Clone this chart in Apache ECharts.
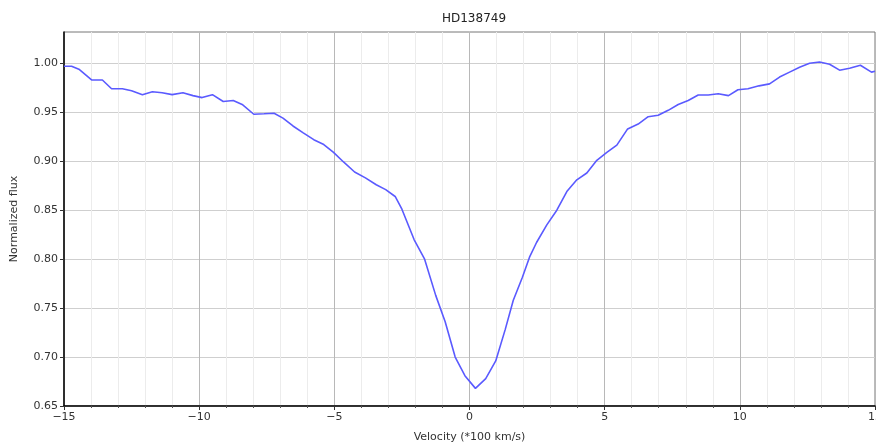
<!DOCTYPE html>
<html>
<head>
<meta charset="utf-8">
<title>HD138749</title>
<script src="https://cdn.jsdelivr.net/npm/echarts@6/dist/echarts.min.js"></script>
<style>
  html, body { margin: 0; padding: 0; background: #fff; }
  #chart { width: 876px; height: 443px; }
</style>
</head>
<body>
<div id="chart"></div>
<script>
// Line profile of HD138749: velocity (in units of 100 km/s) and normalized flux
const velocity = [
  -15.00, -14.72, -14.45, -13.98, -13.58, -13.24, -12.84, -12.50, -12.10, -11.73,
  -11.37, -11.00, -10.60, -10.23, -9.89, -9.51, -9.11, -8.74, -8.41, -7.98,
  -7.60, -7.23, -6.90, -6.53, -6.15, -5.76, -5.39, -5.03, -4.65, -4.25,
  -3.85, -3.45, -3.10, -2.75, -2.50, -2.05, -1.66, -1.25, -0.90, -0.53,
  -0.17, 0.22, 0.60, 0.97, 1.32, 1.62, 1.95, 2.22, 2.48, 2.86,
  3.23, 3.60, 3.97, 4.34, 4.71, 5.08, 5.45, 5.85, 6.24, 6.61,
  6.98, 7.35, 7.72, 8.09, 8.46, 8.83, 9.20, 9.58, 9.93, 10.30,
  10.71, 11.10, 11.47, 11.84, 12.21, 12.58, 12.95, 13.32, 13.69, 14.06,
  14.46, 14.87, 15.00
];
const flux = [
  0.997, 0.997, 0.994, 0.983, 0.983, 0.974, 0.974, 0.972, 0.968, 0.971,
  0.970, 0.968, 0.970, 0.967, 0.965, 0.968, 0.961, 0.962, 0.958, 0.948,
  0.9485, 0.949, 0.944, 0.936, 0.929, 0.922, 0.917, 0.909, 0.899, 0.889,
  0.883, 0.876, 0.871, 0.864, 0.851, 0.820, 0.800, 0.763, 0.736, 0.700,
  0.681, 0.668, 0.678, 0.696, 0.728, 0.758, 0.781, 0.802, 0.817, 0.835,
  0.850, 0.869, 0.881, 0.888, 0.901, 0.909, 0.9165, 0.933, 0.938, 0.9455,
  0.947, 0.952, 0.958, 0.962, 0.9676, 0.9676, 0.969, 0.967, 0.973, 0.974,
  0.977, 0.979, 0.986, 0.991, 0.996, 1.000, 1.0013, 0.999, 0.993, 0.995,
  0.998, 0.991, 0.992
];
const fluxTicks = [0.65, 0.70, 0.75, 0.80, 0.85, 0.90, 0.95, 1.00];

const chart = echarts.init(document.getElementById('chart'), null, { renderer: 'canvas' });
const font = 'DejaVu Sans';

chart.setOption({
  animation: false,
  backgroundColor: '#ffffff',
  title: {
    text: 'HD138749',
    left: 469, top: 8, textAlign: 'center',
    textStyle: { fontFamily: font, fontSize: 12, fontWeight: 'normal', color: '#222' }
  },
  grid: {
    left: 64, right: 1, top: 32, bottom: 37,
    outerBoundsMode: 'none', containLabel: false,
    show: true, borderColor: '#777', borderWidth: 1, backgroundColor: 'transparent'
  },
  xAxis: {
    type: 'value', min: -15, max: 15, interval: 5,
    name: 'Velocity (*100 km/s)', nameLocation: 'middle', nameGap: 26,
    nameTextStyle: { fontFamily: font, fontSize: 11, color: '#333' },
    axisLine: { show: true, onZero: false, lineStyle: { color: '#000', width: 1.5 } },
    axisTick: { show: true, inside: false, length: 4, lineStyle: { color: '#333' } },
    minorTick: { show: true, splitNumber: 5, length: 2, lineStyle: { color: '#555' } },
    axisLabel: {
      fontFamily: font, fontSize: 11, color: '#333', margin: 6,
      formatter: v => (v < 0 ? '\u2212' + Math.abs(v) : String(v))
    },
    splitLine: { show: true, lineStyle: { color: '#b8b8b8', width: 1 } },
    minorSplitLine: { show: true, lineStyle: { color: '#ececec', width: 1 } }
  },
  yAxis: {
    type: 'value', min: 0.65, max: 1.032, interval: 0.05,
    name: 'Normalized flux', nameLocation: 'middle', nameGap: 44,
    nameTextStyle: { fontFamily: font, fontSize: 11, color: '#333' },
    axisLine: { show: true, onZero: false, lineStyle: { color: '#000', width: 1.5 } },
    axisTick: { show: true, inside: false, length: 4, customValues: fluxTicks, lineStyle: { color: '#333' } },
    axisLabel: {
      fontFamily: font, fontSize: 11, color: '#333', margin: 6,
      customValues: fluxTicks,
      formatter: v => v.toFixed(2)
    },
    splitLine: { show: true, lineStyle: { color: '#cfcfcf', width: 1 } }
  },
  series: [{
    type: 'line',
    data: velocity.map((v, i) => [v, flux[i]]),
    showSymbol: false,
    symbol: 'none',
    lineStyle: { color: '#5a5aff', width: 1.6 },
    clip: true
  }]
});
</script>
</body>
</html>
